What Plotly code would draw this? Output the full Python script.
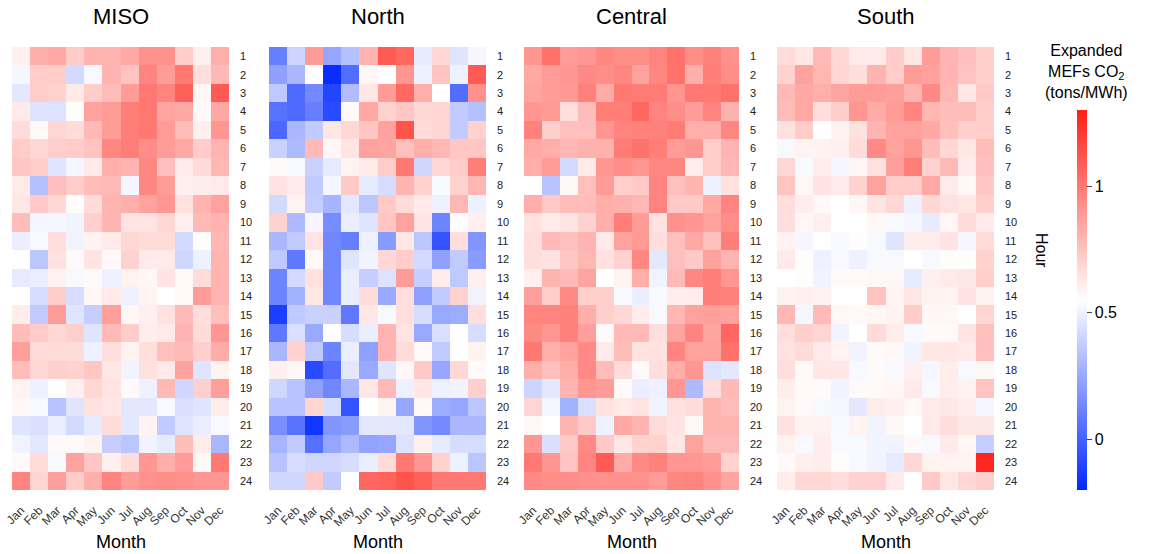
import plotly.graph_objects as go

MONTHS = ["Jan", "Feb", "Mar", "Apr", "May", "Jun", "Jul", "Aug", "Sep", "Oct", "Nov", "Dec"]
HOURS = list(range(1, 25))
REGIONS = ["MISO", "North", "Central", "South"]

# Expanded marginal emission factors, CO2 tons/MWh; rows = hour 1..24, columns = Jan..Dec
MISO = [
    [0.60, 0.82, 0.84, 0.72, 0.80, 0.80, 0.84, 0.92, 0.92, 0.72, 0.60, 0.82],
    [0.52, 0.72, 0.72, 0.42, 0.53, 0.80, 0.75, 0.96, 0.88, 1.00, 0.66, 0.78],
    [0.47, 0.72, 0.70, 0.62, 0.72, 0.77, 0.88, 1.00, 0.96, 1.08, 0.58, 1.10],
    [0.62, 0.45, 0.45, 0.56, 0.86, 0.88, 0.98, 1.00, 0.85, 0.84, 0.57, 0.84],
    [0.67, 0.57, 0.68, 0.67, 0.78, 0.88, 0.98, 1.00, 0.88, 0.77, 0.60, 0.90],
    [0.72, 0.68, 0.71, 0.72, 0.75, 0.95, 0.98, 0.93, 0.88, 0.84, 0.72, 0.80],
    [0.74, 0.72, 0.46, 0.52, 0.62, 0.82, 0.80, 0.95, 0.76, 0.62, 0.67, 0.79],
    [0.62, 0.33, 0.76, 0.72, 0.77, 0.78, 0.52, 0.95, 0.88, 0.60, 0.61, 0.62],
    [0.63, 0.73, 0.68, 0.56, 0.67, 0.80, 0.82, 0.86, 0.90, 0.65, 0.80, 0.86],
    [0.77, 0.52, 0.52, 0.51, 0.71, 0.80, 0.64, 0.64, 0.68, 0.60, 0.78, 0.80],
    [0.49, 0.53, 0.66, 0.51, 0.59, 0.62, 0.68, 0.67, 0.67, 0.42, 0.56, 0.79],
    [0.55, 0.35, 0.65, 0.57, 0.64, 0.57, 0.70, 0.62, 0.62, 0.41, 0.50, 0.80],
    [0.48, 0.49, 0.59, 0.53, 0.57, 0.50, 0.59, 0.58, 0.64, 0.57, 0.67, 0.80],
    [0.55, 0.43, 0.72, 0.43, 0.58, 0.62, 0.50, 0.59, 0.55, 0.57, 0.88, 0.80],
    [0.61, 0.37, 0.88, 0.46, 0.38, 0.87, 0.58, 0.60, 0.65, 0.78, 0.66, 0.76],
    [0.77, 0.72, 0.68, 0.71, 0.46, 0.78, 0.72, 0.61, 0.62, 0.80, 0.67, 0.90],
    [0.87, 0.67, 0.67, 0.67, 0.50, 0.66, 0.59, 0.66, 0.76, 0.78, 0.71, 0.83],
    [0.77, 0.68, 0.71, 0.70, 0.74, 0.63, 0.51, 0.65, 0.62, 0.86, 0.46, 0.59],
    [0.59, 0.50, 0.55, 0.60, 0.68, 0.64, 0.57, 0.50, 0.78, 0.41, 0.71, 0.87],
    [0.58, 0.53, 0.34, 0.46, 0.65, 0.63, 0.47, 0.47, 0.53, 0.44, 0.46, 0.61],
    [0.46, 0.44, 0.49, 0.42, 0.48, 0.67, 0.47, 0.59, 0.37, 0.46, 0.49, 0.53],
    [0.51, 0.47, 0.57, 0.57, 0.59, 0.38, 0.35, 0.51, 0.48, 0.77, 0.61, 0.30],
    [0.57, 0.67, 0.53, 0.86, 0.74, 0.60, 0.67, 0.90, 0.82, 0.88, 0.58, 1.00],
    [0.96, 0.69, 0.87, 0.72, 0.82, 0.96, 0.88, 0.92, 0.93, 0.92, 0.90, 0.90],
]

NORTH = [
    [0.10, 0.40, 0.88, 0.24, 0.33, 0.80, 1.10, 1.05, 0.48, 0.68, 0.46, 0.52],
    [0.22, 0.30, 0.55, -0.18, 0.04, 0.58, 0.55, 0.90, 0.50, 0.75, 0.50, 1.10],
    [0.36, 0.03, 0.14, -0.10, 0.32, 0.63, 0.88, 1.05, 0.82, 0.55, 0.04, 0.92],
    [0.06, 0.03, 0.10, -0.08, 0.57, 0.84, 0.70, 0.74, 0.68, 0.69, 0.37, 0.33],
    [0.02, 0.30, 0.37, 0.63, 0.68, 0.74, 0.86, 1.12, 0.67, 0.69, 0.37, 0.70],
    [0.39, 0.31, 0.78, 0.58, 0.64, 0.86, 0.85, 0.76, 0.82, 0.79, 0.74, 0.74],
    [0.57, 0.53, 0.39, 0.48, 0.59, 0.62, 0.72, 1.00, 0.41, 0.68, 0.72, 0.98],
    [0.64, 0.62, 0.37, 0.52, 0.73, 0.48, 0.43, 0.80, 0.70, 0.53, 0.70, 0.79],
    [0.42, 0.59, 0.38, 0.29, 0.47, 0.35, 0.73, 0.67, 0.62, 0.50, 0.79, 0.50],
    [0.70, 0.31, 0.52, 0.15, 0.49, 0.46, 0.74, 0.86, 0.64, 0.12, 0.54, 0.60],
    [0.30, 0.37, 0.64, 0.13, 0.10, 0.50, 0.20, 0.63, 0.35, -0.05, 0.66, 0.18],
    [0.36, 0.08, 0.57, 0.13, 0.46, 0.51, 0.68, 0.72, 0.42, 0.22, 0.37, 0.20],
    [0.12, 0.42, 0.65, 0.13, 0.49, 0.38, 0.45, 0.88, 0.38, 0.61, 0.36, 0.60],
    [0.12, 0.28, 0.63, 0.13, 0.49, 0.67, 0.25, 0.66, 0.22, 0.37, 0.70, 0.51],
    [-0.12, 0.36, 0.39, 0.39, 0.08, 0.63, 0.53, 0.66, 0.43, 0.25, 0.26, 0.66],
    [0.08, 0.44, 0.25, 0.55, 0.43, 0.49, 0.80, 0.64, 0.25, 0.44, 0.55, 0.43],
    [0.30, 0.70, 0.36, 0.12, 0.49, 0.22, 0.80, 0.67, 0.57, 0.37, 0.55, 0.59],
    [0.60, 0.58, -0.08, 0.04, 0.47, 0.25, 0.46, 0.58, 0.73, 0.24, 0.68, 0.57],
    [0.41, 0.34, 0.22, 0.13, 0.30, 0.63, 0.78, 0.50, 0.63, 0.50, 0.51, 0.71],
    [0.34, 0.34, 0.69, 0.43, -0.05, 0.55, 0.59, 0.24, 0.58, 0.26, 0.24, 0.35],
    [0.16, 0.06, -0.15, 0.18, 0.20, 0.47, 0.47, 0.47, 0.18, 0.14, 0.30, 0.30],
    [0.29, 0.37, 0.05, 0.24, 0.31, 0.23, 0.24, 0.45, 0.60, 0.48, 0.43, 0.43],
    [0.34, 0.43, 0.41, 0.41, 0.43, 0.49, 0.67, 1.00, 0.90, 0.70, 0.50, 0.35],
    [0.41, 0.41, 0.73, 0.37, 0.55, 1.06, 1.07, 1.12, 1.08, 1.00, 1.00, 1.00],
]

CENTRAL = [
    [0.90, 1.02, 0.88, 0.90, 0.95, 0.93, 0.93, 0.96, 1.02, 0.93, 0.97, 0.92],
    [0.84, 0.88, 0.90, 0.94, 0.93, 0.95, 0.86, 0.95, 1.02, 0.82, 0.98, 0.93],
    [0.85, 0.88, 0.89, 0.97, 0.83, 1.00, 0.99, 0.99, 0.90, 1.00, 1.00, 1.02],
    [0.90, 0.89, 0.66, 0.77, 0.98, 0.98, 1.06, 0.96, 0.93, 0.88, 0.96, 0.81],
    [0.97, 0.71, 0.76, 0.76, 0.90, 0.96, 0.97, 0.97, 0.99, 0.82, 0.82, 0.95],
    [0.84, 0.82, 0.79, 0.81, 0.81, 0.99, 1.02, 0.98, 0.88, 0.90, 0.72, 0.80],
    [0.82, 0.88, 0.42, 0.62, 0.90, 0.93, 0.90, 0.95, 0.95, 0.61, 0.72, 0.79],
    [0.55, 0.34, 0.58, 0.76, 0.88, 0.71, 0.73, 0.96, 0.76, 0.80, 0.50, 0.65],
    [0.82, 0.73, 0.77, 0.77, 0.82, 0.81, 0.79, 0.96, 0.73, 0.73, 0.84, 0.96],
    [0.65, 0.62, 0.64, 0.70, 0.82, 0.98, 0.88, 0.65, 0.92, 0.90, 0.86, 0.93],
    [0.66, 0.78, 0.76, 0.80, 0.62, 0.86, 0.89, 0.66, 0.76, 0.84, 0.76, 0.98],
    [0.66, 0.65, 0.74, 0.79, 0.65, 0.70, 0.95, 0.47, 0.76, 0.73, 0.86, 0.80],
    [0.60, 0.80, 0.78, 0.85, 0.55, 0.59, 0.82, 0.51, 0.78, 0.95, 0.98, 0.90],
    [0.87, 0.72, 0.94, 0.71, 0.71, 0.53, 0.49, 0.53, 0.61, 0.61, 0.98, 0.97],
    [0.96, 0.96, 0.97, 0.82, 0.71, 0.68, 0.61, 0.53, 0.79, 0.86, 0.87, 0.86],
    [0.94, 0.90, 0.97, 0.87, 0.57, 0.78, 0.78, 0.66, 0.85, 0.96, 0.85, 1.06],
    [1.00, 0.82, 0.86, 0.94, 0.62, 0.77, 0.65, 0.65, 0.96, 0.86, 0.86, 1.02],
    [0.82, 0.76, 0.82, 0.94, 0.77, 0.67, 0.57, 0.66, 0.82, 0.90, 0.45, 0.47],
    [0.40, 0.47, 0.80, 0.90, 0.88, 0.57, 0.49, 0.50, 0.90, 0.31, 0.66, 0.78],
    [0.69, 0.52, 0.28, 0.44, 0.65, 0.62, 0.64, 0.51, 0.65, 0.67, 0.80, 0.77],
    [0.58, 0.55, 0.80, 0.73, 0.50, 0.84, 0.80, 0.67, 0.64, 0.58, 0.80, 0.80],
    [0.90, 0.44, 0.73, 0.94, 0.73, 0.63, 0.70, 0.70, 0.63, 0.86, 0.78, 0.78],
    [1.00, 0.90, 0.75, 0.96, 1.10, 0.83, 0.94, 0.97, 0.90, 0.90, 0.88, 0.70],
    [0.94, 0.93, 0.93, 0.92, 0.92, 0.92, 0.92, 0.88, 0.95, 0.96, 0.92, 0.85],
]

SOUTH = [
    [0.67, 0.63, 0.78, 0.68, 0.62, 0.62, 0.72, 0.63, 0.88, 0.80, 0.76, 0.71],
    [0.70, 0.86, 0.79, 0.69, 0.66, 0.80, 0.72, 0.88, 0.86, 0.80, 0.75, 0.71],
    [0.78, 0.84, 0.82, 0.85, 0.88, 0.88, 0.87, 0.80, 0.94, 0.79, 0.63, 0.73],
    [0.77, 0.84, 0.66, 0.72, 0.90, 0.83, 0.88, 0.96, 0.79, 0.77, 0.77, 0.72],
    [0.65, 0.72, 0.55, 0.59, 0.65, 0.80, 0.86, 0.86, 0.84, 0.76, 0.71, 0.72],
    [0.53, 0.59, 0.59, 0.60, 0.67, 0.94, 0.86, 0.90, 0.77, 0.68, 0.63, 0.77],
    [0.68, 0.53, 0.61, 0.52, 0.58, 0.65, 0.87, 0.98, 0.70, 0.78, 0.62, 0.76],
    [0.75, 0.58, 0.64, 0.62, 0.70, 0.86, 0.72, 0.72, 0.84, 0.62, 0.58, 0.74],
    [0.66, 0.61, 0.57, 0.55, 0.58, 0.64, 0.68, 0.50, 0.68, 0.65, 0.63, 0.71],
    [0.66, 0.58, 0.60, 0.55, 0.55, 0.58, 0.53, 0.52, 0.48, 0.58, 0.67, 0.62],
    [0.59, 0.52, 0.55, 0.53, 0.56, 0.53, 0.46, 0.61, 0.61, 0.64, 0.52, 0.67],
    [0.62, 0.56, 0.50, 0.53, 0.50, 0.53, 0.53, 0.55, 0.53, 0.56, 0.56, 0.70],
    [0.55, 0.56, 0.51, 0.57, 0.57, 0.58, 0.58, 0.48, 0.60, 0.62, 0.63, 0.71],
    [0.59, 0.60, 0.59, 0.55, 0.55, 0.75, 0.59, 0.63, 0.59, 0.59, 0.64, 0.59],
    [0.79, 0.52, 0.78, 0.58, 0.57, 0.58, 0.59, 0.72, 0.58, 0.58, 0.55, 0.69],
    [0.66, 0.71, 0.69, 0.51, 0.55, 0.67, 0.61, 0.53, 0.57, 0.57, 0.64, 0.76],
    [0.65, 0.67, 0.62, 0.59, 0.51, 0.57, 0.58, 0.51, 0.63, 0.63, 0.62, 0.76],
    [0.66, 0.57, 0.63, 0.63, 0.53, 0.57, 0.53, 0.60, 0.52, 0.61, 0.53, 0.58],
    [0.61, 0.57, 0.57, 0.51, 0.57, 0.57, 0.58, 0.62, 0.53, 0.61, 0.59, 0.75],
    [0.59, 0.57, 0.53, 0.52, 0.47, 0.61, 0.60, 0.58, 0.62, 0.63, 0.61, 0.52],
    [0.65, 0.59, 0.59, 0.53, 0.59, 0.51, 0.58, 0.55, 0.62, 0.66, 0.63, 0.63],
    [0.59, 0.53, 0.61, 0.53, 0.53, 0.51, 0.51, 0.57, 0.53, 0.62, 0.58, 0.38],
    [0.57, 0.60, 0.61, 0.56, 0.53, 0.51, 0.48, 0.68, 0.59, 0.59, 0.59, 1.27],
    [0.61, 0.68, 0.68, 0.66, 0.70, 0.70, 0.62, 0.55, 0.73, 0.63, 0.68, 0.71],
]

CBAR_TICKS = [0, 0.5, 1]

W, H = 1150, 554
FONT = "Arial, Liberation Sans, sans-serif"

# Panel pixel extents (left, right) and shared vertical extent
panel_x = [(12, 229), (269, 486), (524, 739), (777, 994)]
top_px, bottom_px = 47, 490

def fx(px):
    return px / W

def fy(py):
    return 1 - py / H

fig = go.Figure()
data_sets = [MISO, NORTH, CENTRAL, SOUTH]

for i, (name, z) in enumerate(zip(REGIONS, data_sets)):
    ax = "" if i == 0 else str(i + 1)
    fig.add_trace(go.Heatmap(
        z=z, x=MONTHS, y=HOURS,
        coloraxis="coloraxis",
        xaxis="x" + ax, yaxis="y" + ax,
        hovertemplate=name + "<br>%{x}, hour %{y}: %{z:.2f}<extra></extra>",
    ))
    l, r = panel_x[i]
    fig.layout["xaxis" + ax] = dict(
        domain=[fx(l), fx(r)], anchor="y" + ax,
        tickangle=-45, ticks="", showgrid=False, zeroline=False,
        tickfont=dict(size=12, color="#333333", family=FONT),
        showline=False, automargin=False, ticklabelstandoff=10,
    )
    fig.layout["yaxis" + ax] = dict(
        domain=[fy(bottom_px), fy(top_px)], anchor="x" + ax,
        side="right", autorange="reversed", ticks="",
        tickmode="array", tickvals=HOURS, ticktext=[str(h) for h in HOURS],
        tickfont=dict(size=11, color="#222222", family=FONT),
        showgrid=False, zeroline=False, showline=False,
        ticklabelstandoff=10, automargin=False,
    )
    cx = (l + r) / 2
    fig.add_annotation(x=fx(cx), y=fy(17), xref="paper", yref="paper",
                       text=name, showarrow=False,
                       font=dict(size=22, color="black", family=FONT),
                       xanchor="center", yanchor="middle")
    fig.add_annotation(x=fx(cx), y=fy(542), xref="paper", yref="paper",
                       text="Month", showarrow=False,
                       font=dict(size=18, color="black", family=FONT),
                       xanchor="center", yanchor="middle")

fig.add_annotation(x=fx(1041), y=fy(250), xref="paper", yref="paper",
                   text="Hour", showarrow=False, textangle=90,
                   font=dict(size=16, color="black", family=FONT),
                   xanchor="center", yanchor="middle")

fig.add_annotation(x=fx(1086), y=fy(72), xref="paper", yref="paper",
                   text="Expanded<br>MEFs CO<sub>2</sub><br>(tons/MWh)",
                   showarrow=False, align="center",
                   font=dict(size=16, color="black", family=FONT),
                   xanchor="center", yanchor="middle")

fig.update_layout(
    width=W, height=H,
    margin=dict(l=0, r=0, t=0, b=0, autoexpand=False),
    paper_bgcolor="white", plot_bgcolor="white",
    font=dict(family=FONT, color="black"),
    coloraxis=dict(
        cmin=-0.2, cmax=1.3,
        colorscale=[[0.0, "rgb(0,40,255)"], [0.5, "rgb(255,255,255)"], [1.0, "rgb(255,30,20)"]],
        colorbar=dict(
            x=fx(1077), xanchor="left", xref="paper",
            y=fy(300), yanchor="middle", yref="paper",
            len=380, lenmode="pixels",
            thickness=10, outlinewidth=0, xpad=0, ypad=0,
            ticks="outside", ticklen=5, tickcolor="#444444",
            tickvals=CBAR_TICKS, ticktext=["0", "0.5", "1"],
            tickfont=dict(size=16, color="black", family=FONT),
        ),
    ),
)

fig.write_html("out.html")
